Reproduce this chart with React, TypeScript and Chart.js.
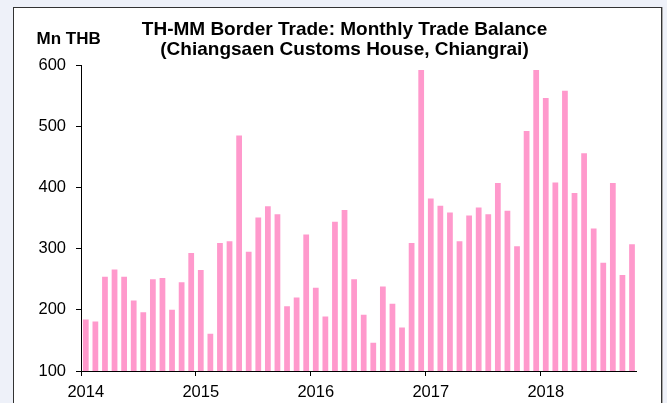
import React, { useEffect, useRef } from "react";
import { Chart, registerables } from "chart.js";

Chart.register(...registerables);

const years = ["2014", "2015", "2016", "2017", "2018"];
const monthNames = ["Jan", "Feb", "Mar", "Apr", "May", "Jun", "Jul", "Aug", "Sep", "Oct", "Nov", "Dec"];

const values2014 = [184, 181, 254, 266, 254, 215, 196, 250, 252, 200, 245, 293];
const values2015 = [265, 161, 309, 312, 485, 295, 351, 369, 356, 206, 220, 323];
const values2016 = [236, 189, 344, 363, 250, 192, 146, 238, 210, 171, 309, 592];
const values2017 = [382, 370, 359, 312, 354, 367, 356, 407, 362, 304, 492, 592];
const values2018 = [546, 408, 558, 391, 456, 333, 277, 407, 257, 307];

const tradeBalance = [...values2014, ...values2015, ...values2016, ...values2017, ...values2018];
const categories = tradeBalance.map((_, i) => `${monthNames[i % 12]} ${years[Math.floor(i / 12)]}`);

const yTicks = [100, 200, 300, 400, 500, 600];
const titleLines = ["TH-MM Border Trade: Monthly Trade Balance", "(Chiangsaen Customs House, Chiangrai)"];
const unitLabel = "Mn THB";

const FONT = '"Liberation Sans", Arial, Helvetica, sans-serif';

export default function App() {
  const ref = useRef<HTMLCanvasElement | null>(null);

  useEffect(() => {
    if (!ref.current) return;
    const textPlugin = {
      id: "headerText",
      afterDraw(chart: any) {
        const ctx = chart.ctx;
        ctx.save();
        ctx.fillStyle = "#000";
        ctx.font = `bold 17px ${FONT}`;
        ctx.textAlign = "left";
        ctx.textBaseline = "alphabetic";
        ctx.fillText(unitLabel, 22.5, 35.5);
        ctx.font = `bold 19px ${FONT}`;
        ctx.textAlign = "center";
        ctx.textBaseline = "middle";
        titleLines.forEach((line, i) => ctx.fillText(line, 330.5, 22 + i * 20));
        ctx.restore();
      },
    };
    const chart = new Chart(ref.current, {
      type: "bar",
      data: {
        labels: categories,
        datasets: [
          {
            data: tradeBalance,
            backgroundColor: "#ff99cc",
            borderWidth: 0,
            barPercentage: 0.6,
            categoryPercentage: 1,
          },
        ],
      },
      options: {
        responsive: false,
        animation: false,
        layout: { padding: { left: 0, right: 24.2, top: 57, bottom: 0 } },
        plugins: {
          legend: { display: false },
          tooltip: { enabled: false },
          title: { display: false },
        },
        scales: {
          x: {
            type: "category",
            offset: true,
            afterFit(scale: any) {
              scale.height = 32;
            },
            grid: {
              offset: true,
              drawOnChartArea: false,
              drawTicks: true,
              tickLength: 5,
              lineWidth: 1,
              color: (ctx: any) => (ctx.index % 12 === 0 && ctx.index < tradeBalance.length ? "#000" : "rgba(0,0,0,0)"),
            },
            border: { display: true, color: "#000", width: 1 },
            ticks: {
              autoSkip: false,
              maxRotation: 0,
              minRotation: 0,
              padding: 7,
              color: "#000",
              font: { family: FONT, size: 16.5 },
              callback: (_v: any, idx: number) => (idx % 12 === 0 ? years[idx / 12] : ""),
            },
          },
          y: {
            min: yTicks[0],
            max: yTicks[yTicks.length - 1],
            afterFit(scale: any) {
              scale.width = 67;
            },
            afterBuildTicks(scale: any) {
              scale.ticks = yTicks.map((v) => ({ value: v }));
            },
            grid: {
              drawOnChartArea: false,
              drawTicks: true,
              tickLength: 5,
              color: "#000",
              lineWidth: 1,
            },
            border: { display: true, color: "#000", width: 1 },
            ticks: {
              padding: 10,
              color: "#000",
              font: { family: FONT, size: 16.5 },
            },
          },
        },
      },
      plugins: [textPlugin],
    } as any);
    return () => chart.destroy();
  }, []);

  return (
    <div
      style={{
        position: "fixed",
        left: 0,
        top: 0,
        width: 667,
        height: 403,
        overflow: "hidden",
        background: "#eef1f9",
      }}
    >
      <div
        style={{
          position: "absolute",
          left: 13,
          top: 7,
          width: 647,
          height: 400,
          border: "1px solid #333",
          boxShadow: "1px 0 0 #aaa",
          background: "#fff",
        }}
      >
        <canvas ref={ref} width={647} height={395} style={{ display: "block", width: 647, height: 395 }} />
      </div>
    </div>
  );
}
